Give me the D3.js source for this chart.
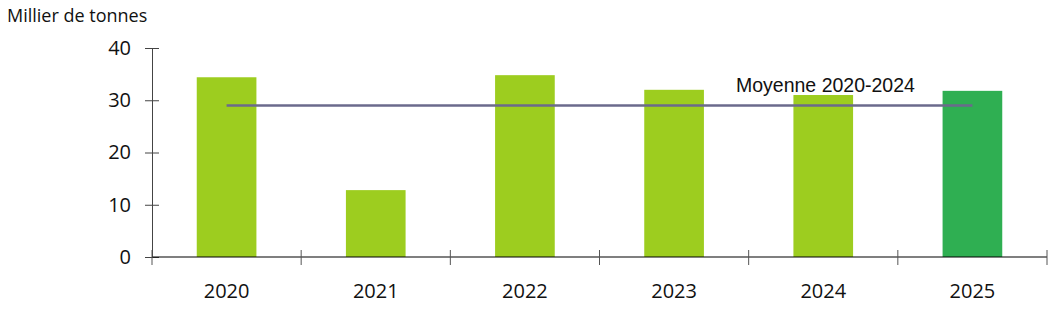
<!DOCTYPE html>
<html>
<head>
<meta charset="utf-8">
<script src="https://cdn.jsdelivr.net/npm/d3@7"></script>
<style>
  body { margin: 0; background: #fff; }
  text { font-family: "Open Sans", "DejaVu Sans", sans-serif; fill: #111; }
</style>
</head>
<body>
<svg id="chart"></svg>
<script>
const years = ["2020", "2021", "2022", "2023", "2024", "2025"];
const values = [34.4, 12.8, 34.8, 32.0, 31.0, 31.8];
const barColors = ["#9dcd1f", "#9dcd1f", "#9dcd1f", "#9dcd1f", "#9dcd1f", "#2faf52"];
const average = 29.0;
const averageLabel = "Moyenne 2020-2024";
const yTicks = [0, 10, 20, 30, 40];
const unitLabel = "Millier de tonnes";

const width = 1054, height = 310;
const margin = { top: 48, right: 7, bottom: 53, left: 152 };

const svg = d3.select("#chart")
  .attr("width", width)
  .attr("height", height);

const x = d3.scaleBand()
  .domain(years)
  .range([margin.left, width - margin.right])
  .paddingInner(0.6)
  .paddingOuter(0.3);

const y = d3.scaleLinear()
  .domain([0, 40])
  .range([height - margin.bottom, margin.top]);

// unit label
svg.append("text")
  .attr("x", 7)
  .attr("y", 22)
  .style("font-size", "18px")
  .text(unitLabel);

// bars
svg.append("g")
  .selectAll("rect")
  .data(years)
  .join("rect")
    .attr("x", d => x(d))
    .attr("y", (d, i) => y(values[i]))
    .attr("width", x.bandwidth())
    .attr("height", (d, i) => y(0) - y(values[i]))
    .attr("fill", (d, i) => barColors[i]);

// y axis
const yAxis = svg.append("g")
  .attr("transform", `translate(${margin.left},0)`)
  .call(d3.axisLeft(y).tickValues(yTicks).tickSize(7).tickPadding(14));
yAxis.select(".domain").attr("stroke", "#444");
yAxis.selectAll(".tick line").attr("x2", 7).attr("x1", -7).attr("stroke", "#444");
yAxis.selectAll(".tick text")
  .style("font-size", "20px")
  .style("font-family", "'Open Sans', sans-serif")
  .attr("fill", "#111");

// x axis: ticks at category boundaries
const step = x.step();
const boundaries = d3.range(years.length + 1).map(i => margin.left + i * step);
const xAxis = svg.append("g");
xAxis.append("line")
  .attr("x1", margin.left)
  .attr("x2", width - margin.right)
  .attr("y1", y(0))
  .attr("y2", y(0))
  .attr("stroke", "#000")
  .attr("stroke-width", 1.2);
xAxis.selectAll("line.tk")
  .data(boundaries)
  .join("line")
    .attr("class", "tk")
    .attr("x1", d => d)
    .attr("x2", d => d)
    .attr("y1", y(0) - 7)
    .attr("y2", y(0) + 8)
    .attr("stroke", "#555");
xAxis.selectAll("text")
  .data(years)
  .join("text")
    .attr("x", d => x(d) + x.bandwidth() / 2)
    .attr("y", 298)
    .attr("text-anchor", "middle")
    .style("font-size", "20px")
    .text(d => d);

// average line
svg.append("line")
  .attr("x1", x(years[0]) + x.bandwidth() / 2)
  .attr("x2", x(years[years.length - 1]) + x.bandwidth() / 2)
  .attr("y1", y(average))
  .attr("y2", y(average))
  .attr("stroke", "#6b6a8c")
  .attr("stroke-width", 2.5);

svg.append("text")
  .attr("x", 736)
  .attr("y", 92)
  .style("font-family", "'Liberation Sans', Arial, sans-serif")
  .style("font-size", "19.5px")
  .text(averageLabel);
</script>
</body>
</html>
